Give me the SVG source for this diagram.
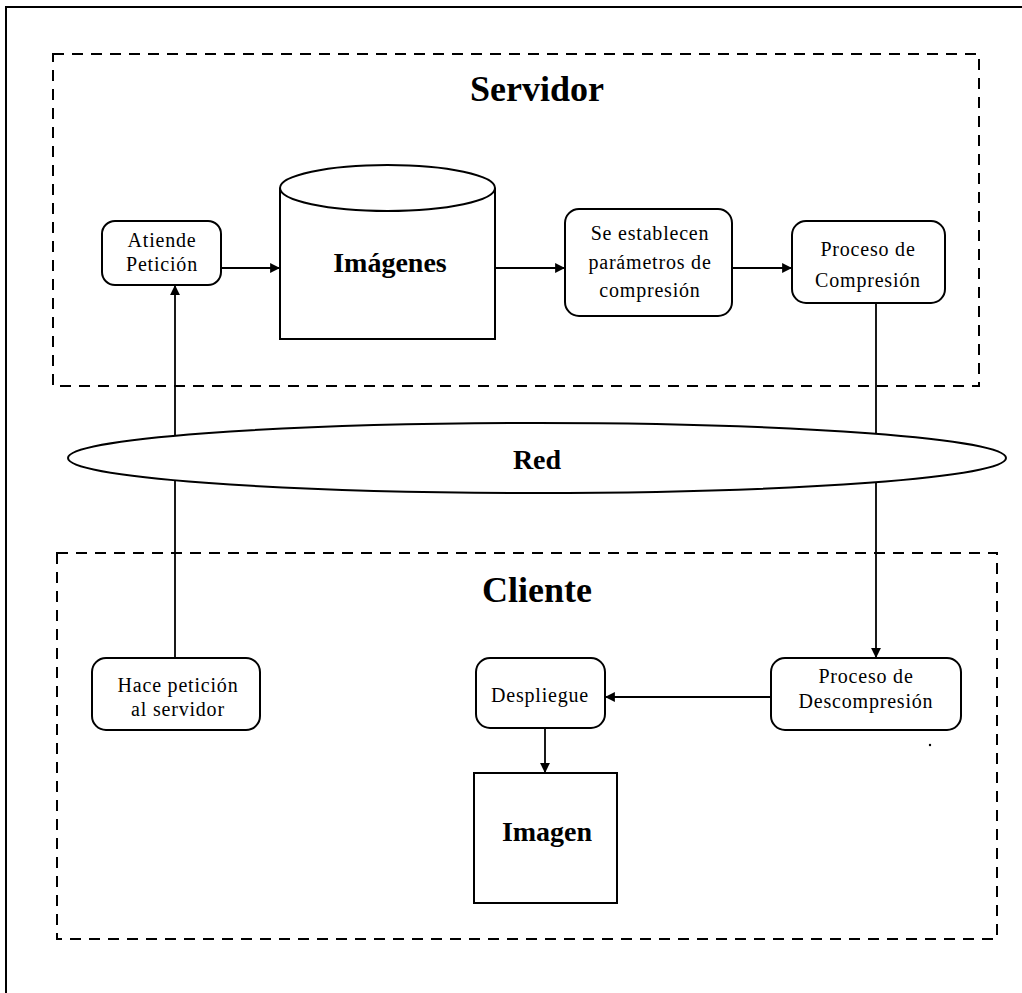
<svg xmlns="http://www.w3.org/2000/svg" width="1022" height="993" viewBox="0 0 1022 993">
  <style>
    .frame { fill: none; stroke: #000; stroke-width: 2; }
    .zone { fill: none; stroke: #000; stroke-width: 2; stroke-dasharray: 11 8; }
    .box { fill: #fff; stroke: #000; stroke-width: 2; }
    .link { fill: none; stroke: #000; stroke-width: 1.8; }
    .label { font-family: "Liberation Serif", "Times New Roman", serif; font-size: 20px; letter-spacing: 0.8px; text-anchor: middle; fill: #000; }
    .title { font-family: "Liberation Serif", "Times New Roman", serif; font-size: 36px; font-weight: bold; text-anchor: middle; fill: #000; }
    .big { font-family: "Liberation Serif", "Times New Roman", serif; font-size: 28px; font-weight: bold; text-anchor: middle; fill: #000; }
  </style>
  <defs>
    <marker id="arrow" viewBox="0 0 10 10" refX="10" refY="5" markerWidth="5.5" markerHeight="5.5" orient="auto" markerUnits="strokeWidth">
      <path d="M0,0 L10,5 L0,10 Z" fill="#000"/>
    </marker>
  </defs>

  <rect width="1022" height="993" fill="#fff"/>

  <!-- page frame (top and left edges) -->
  <path class="frame" d="M6,993 V7 H1022"/>

  <!-- zones -->
  <g id="zona-servidor">
    <rect class="zone" x="53" y="54" width="926" height="332"/>
    <text class="title" x="537" y="101">Servidor</text>
  </g>
  <g id="zona-cliente">
    <rect class="zone" x="57" y="553" width="940" height="386"/>
    <text class="title" x="537" y="602">Cliente</text>
  </g>

  <!-- connectors -->
  <g id="connectors">
    <line class="link" x1="221" y1="268" x2="280" y2="268" marker-end="url(#arrow)"/>
    <line class="link" x1="495" y1="268" x2="565" y2="268" marker-end="url(#arrow)"/>
    <line class="link" x1="732" y1="268" x2="792" y2="268" marker-end="url(#arrow)"/>
    <line class="link" x1="876" y1="303" x2="876" y2="658" marker-end="url(#arrow)"/>
    <line class="link" x1="175" y1="658" x2="175" y2="285" marker-end="url(#arrow)"/>
    <line class="link" x1="771" y1="697" x2="605" y2="697" marker-end="url(#arrow)"/>
    <line class="link" x1="545" y1="728" x2="545" y2="773" marker-end="url(#arrow)"/>
  </g>

  <!-- server side -->
  <g id="atiende-peticion">
    <rect class="box" x="102" y="221" width="119" height="64" rx="13"/>
    <text class="label" x="162" y="247">Atiende</text>
    <text class="label" x="162" y="271">Petición</text>
  </g>
  <g id="imagenes">
    <path class="box" d="M280,188 V339 H495 V188"/>
    <ellipse class="box" cx="387.5" cy="188" rx="107.5" ry="23"/>
    <text class="big" x="390" y="272">Imágenes</text>
  </g>
  <g id="parametros">
    <rect class="box" x="565" y="209" width="167" height="107" rx="14"/>
    <text class="label" x="650" y="240">Se establecen</text>
    <text class="label" x="650" y="269">parámetros de</text>
    <text class="label" x="650" y="297">compresión</text>
  </g>
  <g id="compresion">
    <rect class="box" x="792" y="221" width="153" height="82" rx="14"/>
    <text class="label" x="868" y="256">Proceso de</text>
    <text class="label" x="868" y="287">Compresión</text>
  </g>

  <!-- network -->
  <g id="red">
    <ellipse class="box" cx="537" cy="458" rx="469" ry="35"/>
    <text class="big" x="537" y="469">Red</text>
  </g>

  <!-- client side -->
  <g id="hace-peticion">
    <rect class="box" x="92" y="658" width="168" height="72" rx="14"/>
    <text class="label" x="178" y="692">Hace petición</text>
    <text class="label" x="178" y="716">al servidor</text>
  </g>
  <g id="despliegue">
    <rect class="box" x="476" y="658" width="129" height="70" rx="14"/>
    <text class="label" x="540" y="702">Despliegue</text>
  </g>
  <g id="descompresion">
    <rect class="box" x="771" y="658" width="190" height="72" rx="14"/>
    <text class="label" x="866" y="683">Proceso de</text>
    <text class="label" x="866" y="708">Descompresión</text>
  </g>
  <circle cx="930" cy="745" r="1.2" fill="#000"/>
  <g id="imagen">
    <rect class="box" x="474" y="773" width="143" height="130"/>
    <text class="big" x="547" y="841">Imagen</text>
  </g>
</svg>
